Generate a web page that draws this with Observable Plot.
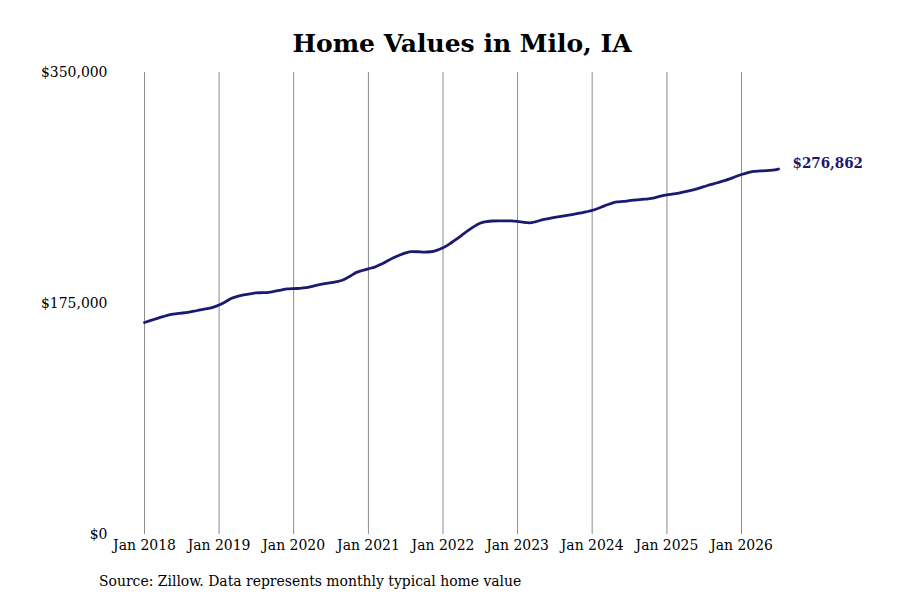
<!DOCTYPE html>
<html>
<head>
<meta charset="utf-8">
<script src="https://cdn.jsdelivr.net/npm/d3@7"></script>
<script src="https://cdn.jsdelivr.net/npm/@observablehq/plot@0.6"></script>
<style>
  html, body { margin: 0; padding: 0; background: #fff; }
  body { width: 900px; height: 600px; overflow: hidden; }
  #title { height: 60px; box-sizing: border-box; padding-top: 29px; text-align: center; padding-left: 24px;
    font-family: "DejaVu Serif", serif; font-weight: bold; font-size: 25px; line-height: 30px; color: #000; }
  #caption { margin-left: 99px; margin-top: 12px; font-family: "DejaVu Serif Condensed", "DejaVu Serif", serif;
    font-stretch: condensed; font-size: 15.5px; color: #000; }
  svg text { font-stretch: condensed; }
</style>
</head>
<body>
<div id="title">Home Values in Milo, IA</div>
<div id="chart"></div>
<div id="caption">Source: Zillow. Data represents monthly typical home value</div>
<script>
const startYear = 2018;
// Monthly typical home values (thousands of $), Jan 2018 – Jul 2026
const values2018 = [160.6, 162.2, 163.6, 165.0, 166.4, 167.2, 167.7, 168.3, 169.2, 170.2, 171.1, 172.0];
const values2019 = [173.8, 176.3, 178.8, 180.4, 181.5, 182.3, 183.0, 183.2, 183.5, 184.3, 185.2, 186.0];
const values2020 = [186.3, 186.5, 187.0, 188.0, 189.1, 190.0, 190.8, 191.5, 193.0, 195.5, 198.4, 200.0];
const values2021 = [201.3, 202.6, 204.5, 207.0, 209.4, 211.5, 213.3, 214.3, 214.2, 213.9, 214.2, 215.3];
const values2022 = [217.3, 220.0, 223.0, 226.5, 230.0, 233.2, 235.8, 237.0, 237.5, 237.6, 237.6, 237.6];
const values2023 = [237.2, 236.4, 236.1, 237.0, 238.3, 239.3, 240.2, 241.0, 241.8, 242.6, 243.4, 244.4];
const values2024 = [245.5, 247.2, 249.0, 250.7, 251.9, 252.3, 252.9, 253.4, 253.9, 254.3, 255.1, 256.3];
const values2025 = [257.3, 258.0, 258.7, 259.7, 260.8, 262.0, 263.5, 265.0, 266.3, 267.7, 269.2, 271.0];
const values2026 = [272.7, 274.2, 275.1, 275.4, 275.6, 276.0, 276.862];

const yTicks = [0, 175000, 350000];
const xTickYears = [2018, 2019, 2020, 2021, 2022, 2023, 2024, 2025, 2026];
const lineColor = "#1c1a70";

const allYears = [values2018, values2019, values2020, values2021, values2022, values2023, values2024, values2025, values2026];
const data = [];
allYears.forEach((arr, yi) => arr.forEach((v, m) => data.push({date: new Date(startYear + yi, m, 1), value: v * 1000})));
const last = data[data.length - 1];
const xTicks = xTickYears.map(y => new Date(y, 0, 1));

const fmt = d3.format("$,.0f");
const plot = Plot.plot({
  width: 900,
  height: 500,
  marginTop: 12,
  marginBottom: 26,
  marginLeft: 144,
  marginRight: 122,
  style: {fontFamily: '"DejaVu Serif Condensed", "DejaVu Serif", serif', fontSize: "15.5px", color: "#000", background: "#fff"},
  x: {type: "time", domain: [data[0].date, last.date]},
  y: {domain: [0, 350000]},
  marks: [
    Plot.ruleX(xTicks, {stroke: "#8c8c8c", strokeWidth: 1, strokeOpacity: 1}),
    Plot.axisY({ticks: yTicks, tickSize: 0, tickPadding: 37, tickFormat: fmt, fontSize: 15.5, label: null}),
    Plot.axisX({ticks: xTicks, tickSize: 0, tickPadding: 4, tickFormat: d3.timeFormat("Jan %Y"), fontSize: 15.5, label: null}),
    Plot.line(data, {x: "date", y: "value", stroke: lineColor, strokeWidth: 2.8, curve: "monotone-x"}),
    Plot.text([last], {x: "date", y: "value", text: d => fmt(d.value), dx: 14, dy: -6, textAnchor: "start",
      fill: lineColor, fontWeight: "bold", fontSize: 15, fontFamily: '"DejaVu Serif", serif'})
  ]
});
document.getElementById("chart").appendChild(plot);
</script>
</body>
</html>
